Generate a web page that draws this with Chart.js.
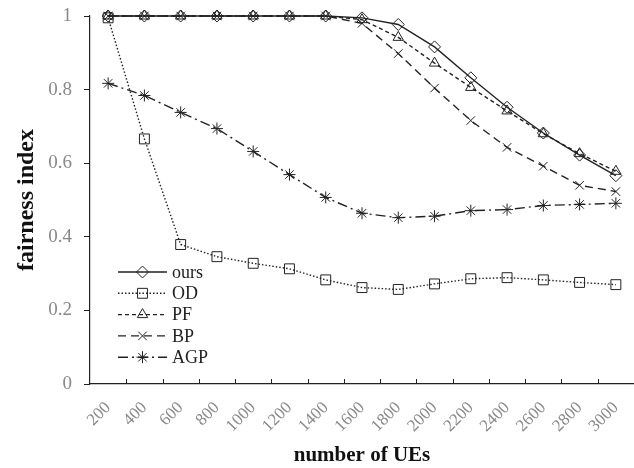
<!DOCTYPE html>
<html>
<head>
<meta charset="utf-8">
<script src="https://cdn.jsdelivr.net/npm/chart.js@4.4.0/dist/chart.umd.min.js"></script>
<style>
  html, body { margin: 0; padding: 0; background: #fff; }
  #wrap { width: 634px; height: 468px; }
</style>
</head>
<body>
<div id="wrap"><canvas id="results-chart" width="634" height="468"></canvas></div>
<script>
'use strict';

// categories (number of UEs)
let ueCounts = ['200', '400', '600', '800', '1000', '1200', '1400', '1600', '1800', '2000', '2200', '2400', '2600', '2800', '3000'];

// fairness index per scheme
let oursValues = [1, 1, 1, 1, 1, 1, 1, 0.995, 0.977, 0.916, 0.832, 0.752, 0.682, 0.622, 0.566];
let odValues = [0.995, 0.666, 0.379, 0.346, 0.328, 0.313, 0.283, 0.262, 0.257, 0.272, 0.286, 0.289, 0.283, 0.276, 0.27];
let pfValues = [1, 1, 1, 1, 1, 1, 1, 0.99, 0.942, 0.872, 0.806, 0.742, 0.68, 0.626, 0.578];
let bpValues = [1, 1, 1, 1, 1, 1, 1, 0.98, 0.898, 0.804, 0.716, 0.643, 0.592, 0.54, 0.523];
let agpValues = [0.817, 0.784, 0.738, 0.694, 0.632, 0.569, 0.507, 0.464, 0.452, 0.456, 0.471, 0.474, 0.485, 0.488, 0.491];

let yTicks = [0, 0.2, 0.4, 0.6, 0.8, 1];

let ctx = document.getElementById('results-chart').getContext('2d');

function makeSet(label, data, pointStyle, radius, dash, order) {
  return {
    label: label,
    data: data,
    borderColor: '#222',
    backgroundColor: 'rgba(0,0,0,0)',
    borderWidth: 1.4,
    borderDash: dash,
    pointStyle: pointStyle,
    pointRadius: radius,
    pointBorderColor: '#222',
    pointBackgroundColor: 'rgba(0,0,0,0)',
    pointBorderWidth: 1,
    tension: 0,
    fill: false,
    clip: false,
    order: order
  };
}

// legend in the lower left of the plot, x tick marks and slanted x labels
const extrasPlugin = {
  id: 'extras',
  afterDatasetsDraw(chart) {
    let c = chart.ctx;
    let sets = chart.data.datasets;
    let x0 = 118, x1 = 167, y = 272;
    c.save();
    for (let i = 0; i < sets.length; i++) {
      let ds = sets[i];
      c.strokeStyle = '#222';
      c.lineWidth = ds.borderWidth;
      c.setLineDash(ds.borderDash);
      c.beginPath();
      c.moveTo(x0, y);
      c.lineTo(x1, y);
      c.stroke();
      c.setLineDash([]);
      c.lineWidth = 1;
      c.fillStyle = 'rgba(0,0,0,0)';
      Chart.helpers.drawPoint(c, { pointStyle: ds.pointStyle, radius: ds.pointRadius, rotation: 0, borderWidth: 1 }, (x0 + x1) / 2, y);
      c.fillStyle = '#222';
      c.font = '18px "Liberation Serif"';
      c.textBaseline = 'middle';
      c.fillText(ds.label, 172, y + 1);
      y += 21.3;
    }
    c.restore();
  },
  afterDraw(chart) {
    let xs = chart.scales.x;
    let c = chart.ctx;
    let bottom = chart.chartArea.bottom;
    c.save();
    c.strokeStyle = '#222';
    c.lineWidth = 1;
    // tick marks point into the plot, between categories
    for (let i = 0; i < ueCounts.length; i++) {
      let px = (xs.getPixelForValue(i) + xs.getPixelForValue(i + 1)) / 2;
      c.beginPath();
      c.moveTo(Math.round(px) + 0.5, bottom);
      c.lineTo(Math.round(px) + 0.5, bottom - 5);
      c.stroke();
    }
    // labels at 45 degrees, ending under each category
    c.fillStyle = '#888';
    c.font = '17px "Liberation Serif"';
    c.textAlign = 'right';
    c.textBaseline = 'middle';
    for (let i = 0; i < ueCounts.length; i++) {
      let px = xs.getPixelForValue(i);
      c.save();
      c.translate(px, bottom + 21);
      c.rotate(-Math.PI / 4);
      c.fillText(ueCounts[i], 0, 0);
      c.restore();
    }
    c.restore();
  }
};

let chartObject = {
  type: 'line',
  data: {
    labels: ueCounts,
    datasets: [
      makeSet('ours', oursValues, 'rectRot', 6, [], 0),
      makeSet('OD', odValues, 'rect', 7, [1.5, 2], 4),
      makeSet('PF', pfValues, 'triangle', 6, [4, 3], 2),
      makeSet('BP', bpValues, 'crossRot', 6, [8, 5], 3),
      makeSet('AGP', agpValues, 'star', 6, [10, 4, 2, 4], 5)
    ]
  },
  options: {
    responsive: false,
    animation: false,
    layout: { autoPadding: false, padding: { top: 16, right: 0, left: 0, bottom: 0 } },
    plugins: {
      legend: { display: false },
      tooltip: { enabled: false }
    },
    scales: {
      x: {
        offset: true,
        grid: { display: false },
        border: { display: true, color: '#222', width: 1.2 },
        ticks: { display: false },
        title: {
          display: true,
          text: 'number of UEs',
          color: '#111',
          font: { family: 'Liberation Serif', size: 21, weight: 'bold' },
          padding: { top: 0, bottom: 0 }
        },
        afterFit(scale) { scale.height = 84; }
      },
      y: {
        min: 0,
        max: 1,
        afterBuildTicks(scale) { scale.ticks = yTicks.map(v => ({ value: v })); },
        grid: { display: true, drawOnChartArea: false, drawTicks: true, tickLength: 6, color: '#222' },
        border: { display: true, color: '#222', width: 1.2 },
        ticks: {
          color: '#888',
          font: { family: 'Liberation Serif', size: 19 },
          padding: 12,
          callback: v => String(v)
        },
        title: {
          display: true,
          text: 'fairness index',
          color: '#111',
          font: { family: 'Liberation Serif', size: 24, weight: 'bold' },
          padding: { top: 12, bottom: 4 }
        },
        afterFit(scale) {
          scale.width = 90;
          scale.paddingTop = 0;
          scale.paddingBottom = 0;
        }
      }
    }
  },
  plugins: [extrasPlugin]
};

const myChart = new Chart(ctx, chartObject);
</script>
</body>
</html>
